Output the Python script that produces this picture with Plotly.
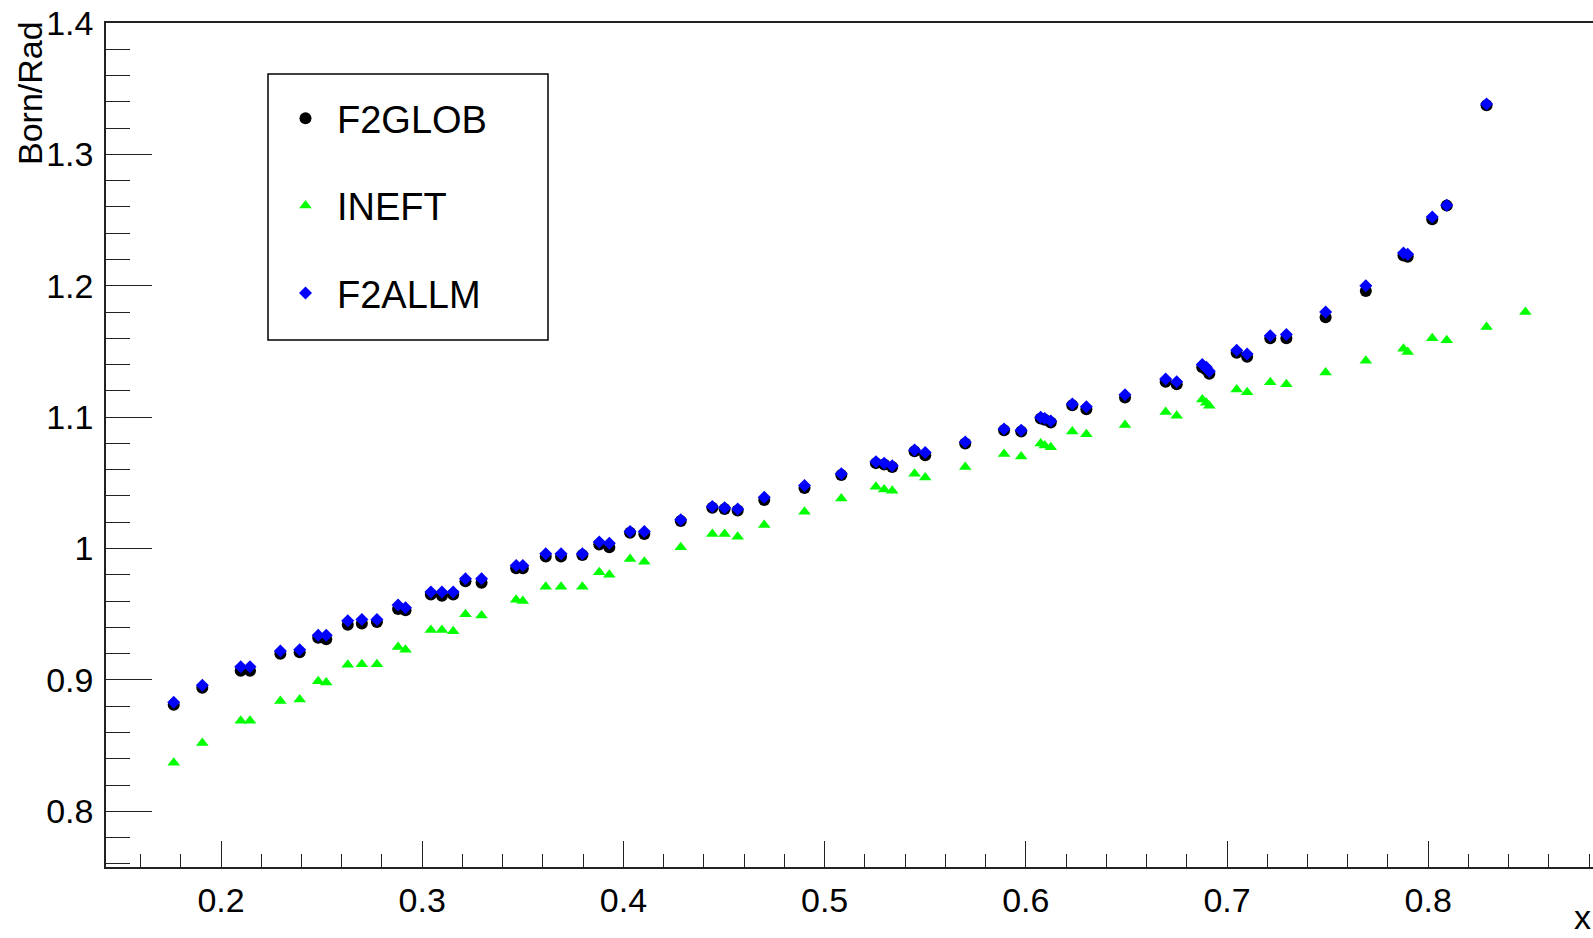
import plotly.graph_objects as go

# x (Bjorken x) bins shared by all three models
x_vals = [0.1765, 0.1907, 0.2098, 0.2144, 0.2295, 0.2391, 0.2483, 0.2523, 0.2630, 0.2700,
          0.2775, 0.2880, 0.2917, 0.3043, 0.3098, 0.3154, 0.3215, 0.3295, 0.3467, 0.3500,
          0.3614, 0.3690, 0.3796, 0.3880, 0.3930, 0.4033, 0.4104, 0.4285, 0.4442, 0.4503,
          0.4568, 0.4700, 0.4900, 0.5083, 0.5255, 0.5296, 0.5336, 0.5447, 0.5500, 0.5699,
          0.5892, 0.5977, 0.6074, 0.6094, 0.6124, 0.6231, 0.6301, 0.6493, 0.6695, 0.6750,
          0.6877, 0.6897, 0.6912, 0.7048, 0.7100, 0.7215, 0.7295, 0.7490, 0.7690, 0.7877,
          0.7898, 0.8020, 0.8092, 0.8290, 0.8483]

# Born/Rad ratio for each structure-function model
f2glob = [0.881, 0.894, 0.907, 0.907, 0.920, 0.921, 0.932, 0.931, 0.942, 0.943,
          0.944, 0.954, 0.953, 0.965, 0.964, 0.965, 0.975, 0.974, 0.985, 0.985,
          0.994, 0.994, 0.995, 1.003, 1.001, 1.012, 1.011, 1.021, 1.031, 1.030,
          1.029, 1.037, 1.046, 1.056, 1.065, 1.064, 1.062, 1.074, 1.071, 1.080,
          1.090, 1.089, 1.099, 1.098, 1.096, 1.109, 1.106, 1.115, 1.127, 1.125,
          1.138, 1.136, 1.133, 1.149, 1.146, 1.160, 1.160, 1.176, 1.196, 1.223,
          1.222, 1.2506, 1.261, 1.3374, None]

ineft = [0.837, 0.852, 0.869, 0.869, 0.884, 0.885, 0.899, 0.898, 0.9115, 0.912,
         0.912, 0.925, 0.923, 0.938, 0.938, 0.937, 0.950, 0.949, 0.961, 0.960,
         0.971, 0.971, 0.971, 0.982, 0.980, 0.992, 0.990, 1.001, 1.011, 1.011,
         1.009, 1.018, 1.028, 1.038, 1.047, 1.045, 1.044, 1.057, 1.054, 1.062,
         1.072, 1.070, 1.080, 1.0785, 1.077, 1.089, 1.087, 1.094, 1.104, 1.101,
         1.1135, 1.111, 1.1087, 1.121, 1.119, 1.1266, 1.125, 1.134, 1.143, 1.152,
         1.1496, 1.160, 1.1585, 1.1686, 1.180]

f2allm = [0.883, 0.896, 0.910, 0.910, 0.922, 0.923, 0.934, 0.934, 0.945, 0.946,
          0.946, 0.957, 0.955, 0.967, 0.967, 0.967, 0.977, 0.977, 0.987, 0.987,
          0.996, 0.996, 0.996, 1.005, 1.004, 1.013, 1.013, 1.022, 1.032, 1.031,
          1.030, 1.039, 1.048, 1.057, 1.066, 1.065, 1.063, 1.075, 1.073, 1.081,
          1.091, 1.090, 1.100, 1.099, 1.097, 1.110, 1.108, 1.117, 1.129, 1.127,
          1.140, 1.138, 1.135, 1.151, 1.148, 1.162, 1.163, 1.180, 1.200, 1.225,
          1.224, 1.2524, 1.2613, 1.3383, None]

x_ticks = [0.2, 0.3, 0.4, 0.5, 0.6, 0.7, 0.8]
x_ticktext = ["0.2", "0.3", "0.4", "0.5", "0.6", "0.7", "0.8"]
y_ticks = [0.8, 0.9, 1.0, 1.1, 1.2, 1.3, 1.4]
y_ticktext = ["0.8", "0.9", "1", "1.1", "1.2", "1.3", "1.4"]

FONT = "Liberation Sans, Arial, Helvetica, sans-serif"

fig = go.Figure()
fig.add_trace(go.Scatter(x=x_vals, y=f2glob, mode="markers", name="F2GLOB",
                         legendgroup="g1",
                         marker=dict(symbol="circle", size=12, color="black")))
fig.add_trace(go.Scatter(x=x_vals, y=ineft, mode="markers", name="INEFT",
                         legendgroup="g2",
                         marker=dict(symbol="triangle-up", size=11, color="#00ff00")))
fig.add_trace(go.Scatter(x=x_vals, y=f2allm, mode="markers", name="F2ALLM",
                         legendgroup="g3",
                         marker=dict(symbol="diamond", size=10, color="#0000ff")))

W, H = 1593, 938
L, T, B = 106, 23, 71
plot_w = W - L
plot_h = H - T - B


def px_x(px):
    return (px - L) / plot_w


def px_y(py):
    return (H - B - py) / plot_h


axis_common = dict(showgrid=False, zeroline=False, showline=True, linecolor="#222",
                   linewidth=1.5, ticks="inside", tickcolor="#222", tickwidth=1.2,
                   tickfont=dict(family=FONT, size=34, color="black"))

fig.update_layout(
    width=W, height=H,
    margin=dict(l=L, r=0, t=T, b=B, autoexpand=False),
    paper_bgcolor="white", plot_bgcolor="white",
    font=dict(family=FONT, color="black"),
    xaxis=dict(range=[0.14284, 0.8819], tickvals=x_ticks, ticktext=x_ticktext,
               ticklen=26, mirror=True, ticklabelstandoff=2,
               minor=dict(dtick=0.02, tick0=0, ticklen=13, ticks="inside",
                          tickcolor="#222", tickwidth=1.2),
               **axis_common),
    yaxis=dict(range=[0.7576, 1.4], tickvals=y_ticks, ticktext=y_ticktext,
               ticklen=46, ticklabelstandoff=4,
               minor=dict(dtick=0.02, tick0=0, ticklen=24, ticks="inside",
                          tickcolor="#222", tickwidth=1.2),
               **axis_common),
    showlegend=True,
    legend=dict(x=px_x(274), y=px_y(87), xanchor="left", yanchor="top",
                bgcolor="rgba(0,0,0,0)", borderwidth=0,
                font=dict(family=FONT, size=38, color="black"),
                itemwidth=53, tracegroupgap=35),
    shapes=[dict(type="rect", xref="paper", yref="paper",
                 x0=px_x(268), x1=px_x(548), y0=px_y(340), y1=px_y(74),
                 line=dict(color="black", width=1.5), fillcolor="white", layer="below")],
    annotations=[
        dict(text="Born/Rad", xref="paper", yref="paper", x=px_x(30), y=px_y(19),
             xanchor="center", yanchor="top", textangle=-90, showarrow=False,
             font=dict(family=FONT, size=34, color="black")),
        dict(text="x", xref="paper", yref="paper", x=px_x(1593), y=px_y(938),
             xanchor="right", yanchor="bottom", showarrow=False,
             font=dict(family=FONT, size=34, color="black")),
    ],
)

fig.write_html("out.html")
